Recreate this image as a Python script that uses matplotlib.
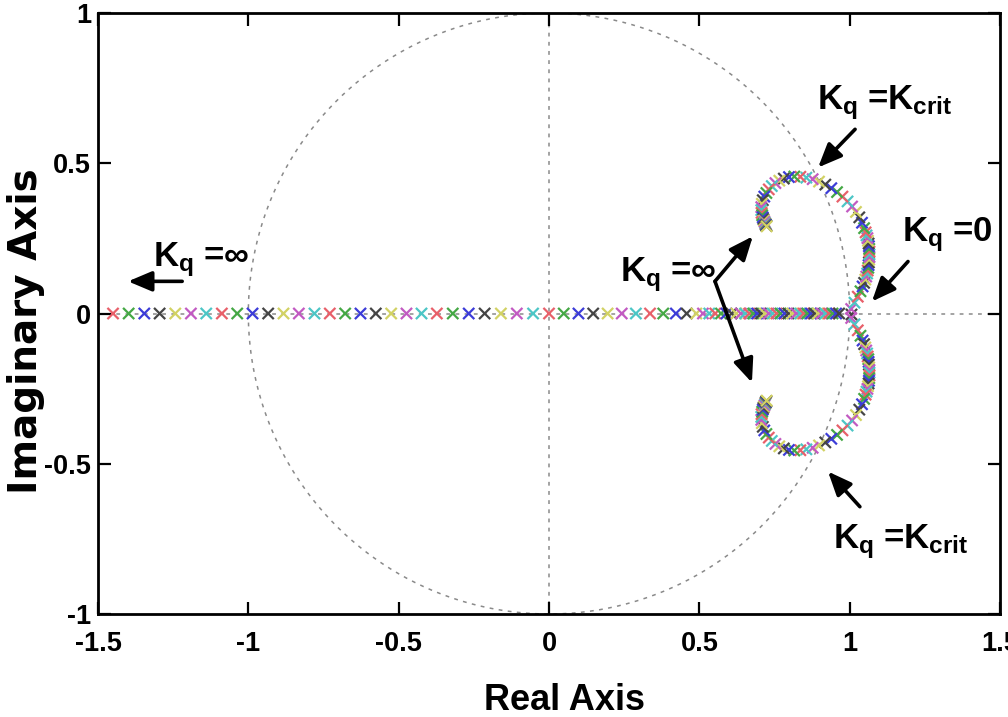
import numpy as np
import matplotlib.pyplot as plt

plt.rcParams['font.family'] = ['Liberation Sans', 'DejaVu Sans']
plt.rcParams['font.weight'] = 'bold'
plt.rcParams['mathtext.fontset'] = 'custom'
plt.rcParams['mathtext.rm'] = 'Liberation Sans:bold'
plt.rcParams['mathtext.it'] = 'Liberation Sans:bold'
plt.rcParams['mathtext.bf'] = 'Liberation Sans:bold'

# real pole going to -inf
real_branch = [-1.450, -1.398, -1.346, -1.295, -1.243, -1.191, -1.140, -1.088,
               -1.037, -0.986, -0.934, -0.883, -0.832, -0.780, -0.729, -0.678,
               -0.627, -0.576, -0.525, -0.474, -0.424, -0.373, -0.320, -0.267,
               -0.214, -0.160, -0.107, -0.053, 0.000, 0.049, 0.098, 0.147,
               0.195, 0.242, 0.289, 0.336, 0.380, 0.422, 0.458]
# dense part of the real pole, small gains
real_dense = [0.490, 0.512, 0.533, 0.553, 0.572, 0.590, 0.607, 0.623, 0.638,
              0.652, 0.666, 0.679, 0.692, 0.705, 0.718, 0.731, 0.744, 0.757,
              0.770, 0.783, 0.796, 0.809, 0.822, 0.835, 0.847, 0.859, 0.871,
              0.883, 0.895, 0.907, 0.919, 0.931, 0.943, 0.955, 0.965]
open_loop = [1.005]

# upper complex branch, from Kq=0 to Kq=inf (lower one is its conjugate)
arc_re = [1.005, 1.016, 1.027, 1.036, 1.043, 1.048, 1.052, 1.055, 1.058, 1.060,
          1.062, 1.063, 1.064, 1.065, 1.066, 1.066, 1.066, 1.065, 1.064, 1.063,
          1.061, 1.059, 1.056, 1.053, 1.048, 1.041, 1.032, 1.021, 1.008, 0.993,
          0.976, 0.958, 0.939, 0.919, 0.898, 0.877, 0.856, 0.836, 0.816, 0.798,
          0.781, 0.766, 0.753, 0.741, 0.731, 0.723, 0.716, 0.711, 0.708, 0.706,
          0.706, 0.707, 0.709, 0.711, 0.713, 0.715, 0.717, 0.719, 0.720, 0.721,
          0.722, 0.723, 0.724]
arc_im = [0.015, 0.036, 0.056, 0.074, 0.090, 0.102, 0.113, 0.123, 0.133, 0.143,
          0.152, 0.161, 0.170, 0.179, 0.188, 0.197, 0.206, 0.215, 0.224, 0.233,
          0.242, 0.251, 0.260, 0.270, 0.284, 0.302, 0.320, 0.338, 0.356, 0.373,
          0.389, 0.404, 0.417, 0.429, 0.439, 0.447, 0.452, 0.455, 0.456, 0.454,
          0.449, 0.442, 0.434, 0.424, 0.413, 0.401, 0.389, 0.377, 0.365, 0.354,
          0.344, 0.335, 0.327, 0.320, 0.314, 0.309, 0.305, 0.301, 0.298, 0.296,
          0.294, 0.292, 0.290]

pole_colors = ['#e8606a', '#45a845', '#3c3cd8', '#454545', '#d2d264', '#c25ac2', '#4cc6c6']

x_ticks = [-1.5, -1, -0.5, 0, 0.5, 1, 1.5]
x_tick_labels = ['-1.5', '-1', '-0.5', '0', '0.5', '1', '1.5']
y_ticks = [-1, -0.5, 0, 0.5, 1]
y_tick_labels = ['-1', '-0.5', '0', '0.5', '1']


def cyc(n, start=0):
    return [pole_colors[(start + i) % len(pole_colors)] for i in range(n)]


fig = plt.figure(figsize=(10.08, 7.17), dpi=100)
ax = fig.add_axes([98 / 1008, 1 - 614 / 717, 902 / 1008, 601 / 717])

# grid: unit circle + axes lines
th = np.linspace(0, 2 * np.pi, 400)
ax.plot(np.cos(th), np.sin(th), color='#8a8a8a', lw=1.1, ls=(0, (2.5, 3.5)), zorder=1)
ax.plot([0, 0], [-1, 1], color='#8a8a8a', lw=1.1, ls=(0, (2.5, 3.5)), zorder=1)
ax.plot([-1.5, 1.5], [0, 0], color='#8a8a8a', lw=1.1, ls=(0, (2.5, 3.5)), zorder=1)

ms = 65
lw = 1.6
ax.scatter(real_branch, np.zeros(len(real_branch)), marker='x', s=ms, linewidths=lw,
           c=cyc(len(real_branch)), zorder=3)
ax.scatter(real_dense, np.zeros(len(real_dense)), marker='x', s=ms, linewidths=lw,
           c=cyc(len(real_dense), 4), zorder=3)
ax.scatter(open_loop, [0], marker='x', s=ms, linewidths=lw, c=[pole_colors[3]], zorder=3)
arc_c = cyc(len(arc_re), 5)
ax.scatter(arc_re, arc_im, marker='x', s=ms, linewidths=lw, c=arc_c, zorder=3)
ax.scatter(arc_re, [-v for v in arc_im], marker='x', s=ms, linewidths=lw, c=arc_c, zorder=3)

ax.set_xlim(-1.5, 1.5)
ax.set_ylim(-1, 1)
ax.set_xticks(x_ticks)
ax.set_xticklabels(x_tick_labels)
ax.set_yticks(y_ticks)
ax.set_yticklabels(y_tick_labels)
ax.tick_params(direction='in', length=9, width=1.6, labelsize=19.5, top=True, right=True)
ax.tick_params(axis='x', pad=12)
ax.tick_params(axis='y', pad=5)
for s in ax.spines.values():
    s.set_linewidth(2)

fig.text(565 / 1008, 1 - 710 / 717, 'Real Axis', fontsize=26, fontweight='bold',
         ha='center', va='baseline')
fig.text(26 / 1008, 1 - 331 / 717, 'Imaginary Axis', fontsize=28, fontweight='bold',
         family='DejaVu Sans', rotation=90, ha='center', va='center')

# annotations
arr = dict(arrowstyle='-|>,head_length=0.9,head_width=0.38', lw=2.6, color='k',
           mutation_scale=16, shrinkA=0, shrinkB=0)
tfs = 25
ax.text(0.891, 0.679, r'$K_q$ =$K_{crit}$', fontsize=tfs, fontweight='bold')
ax.annotate('', xy=(0.895, 0.486), xytext=(1.018, 0.613), arrowprops=arr)

ax.text(1.173, 0.24, r'$K_q$ =0', fontsize=tfs, fontweight='bold')
ax.annotate('', xy=(1.074, 0.040), xytext=(1.194, 0.173), arrowprops=arr)

ax.text(0.236, 0.107, r'$K_q$ =∞', fontsize=tfs, fontweight='bold')
ax.annotate('', xy=(0.678, 0.257), xytext=(0.552, 0.107), arrowprops=arr)
ax.annotate('', xy=(0.675, -0.23), xytext=(0.552, 0.107), arrowprops=arr)

ax.text(-1.317, 0.157, r'$K_q$ =∞', fontsize=tfs, fontweight='bold')
ax.annotate('', xy=(-1.40, 0.107), xytext=(-1.22, 0.107), arrowprops=arr)

ax.text(0.944, -0.78, r'$K_q$ =$K_{crit}$', fontsize=tfs, fontweight='bold')
ax.annotate('', xy=(0.928, -0.526), xytext=(1.034, -0.643), arrowprops=arr)

fig.savefig('out.png', dpi=100)
